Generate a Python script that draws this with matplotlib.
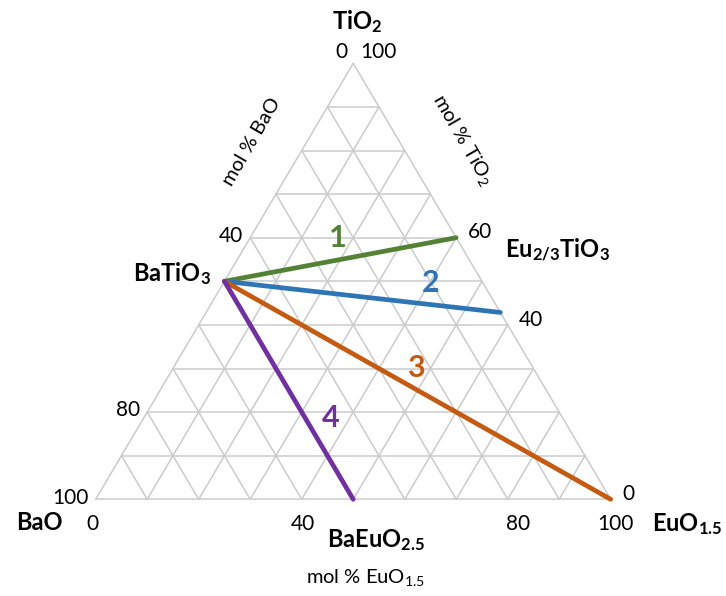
import numpy as np
import matplotlib
matplotlib.use("Agg")
import matplotlib.pyplot as plt

plt.rcParams['font.family'] = ['Lato', 'DejaVu Sans']
plt.rcParams['mathtext.fontset'] = 'custom'
plt.rcParams['mathtext.rm'] = 'Lato'
plt.rcParams['mathtext.it'] = 'Lato:italic'
plt.rcParams['mathtext.bf'] = 'Lato:bold'

# Compositions are (BaO, TiO2, EuO1.5) in mol %
batio3 = (50, 50, 0)
tie_line_ends = [(0, 60, 40),              # 1: Eu2/3TiO3
                 (0, 300 / 7, 400 / 7),    # 2: Eu4Ti3O12
                 (0, 0, 100),              # 3: EuO1.5
                 (50, 0, 50)]              # 4: BaEuO2.5
tie_line_names = ['1', '2', '3', '4']
tie_line_colors = ['#548235', '#2E75B6', '#C55A11', '#7030A0']

grid_step = 10
left_ticks = [40, 80, 100]       # mol % BaO on the left edge
right_ticks = [60, 40, 0]        # mol % TiO2 on the right edge
bottom_ticks = [0, 40, 80, 100]  # mol % EuO1.5 on the bottom edge

W, H = 726, 596
# triangle corners in pixels
x0, x1, ybase, ytop = 95.7, 610.7, 499.3, 63.3
sx = x1 - x0
sy = ybase - ytop


def tern(bao, tio2, euo):
    tot = bao + tio2 + euo
    t = tio2 / tot
    e = euo / tot
    return e + t / 2, t


def px(x, y):
    return (x - x0) / sx, (ybase - y) / sy


fig = plt.figure(figsize=(W / 100, H / 100), dpi=100)
ax = fig.add_axes([0, 0, 1, 1])
ax.set_xlim(-x0 / sx, (W - x0) / sx)
ax.set_ylim(-(H - ybase) / sy, ybase / sy)
ax.axis('off')

grid_kw = dict(color='#cbcbcb', lw=1.1, zorder=1, solid_capstyle='round')
for v in range(0, 101, grid_step):
    # constant TiO2
    a = tern(100 - v, v, 0); b = tern(0, v, 100 - v)
    ax.plot([a[0], b[0]], [a[1], b[1]], **grid_kw)
    # constant EuO1.5
    a = tern(100 - v, 0, v); b = tern(0, 100 - v, v)
    ax.plot([a[0], b[0]], [a[1], b[1]], **grid_kw)
    # constant BaO
    a = tern(v, 0, 100 - v); b = tern(v, 100 - v, 0)
    ax.plot([a[0], b[0]], [a[1], b[1]], **grid_kw)

# tie lines from BaTiO3
for end, col in zip(tie_line_ends, tie_line_colors):
    a = tern(*batio3); b = tern(*end)
    ax.plot([a[0], b[0]], [a[1], b[1]], color=col, lw=3.4, zorder=3,
            solid_capstyle='round')

label_px = [(338, 238), (431, 283), (416, 368), (331, 418)]
for name, col, (lx, ly) in zip(tie_line_names, tie_line_colors, label_px):
    ax.text(*px(lx, ly), name, color=col, fontsize=22, fontweight='bold',
            ha='center', va='center', zorder=4)

num_kw = dict(fontsize=15, color='black', va='center')
# left edge ticks (BaO)
for v in left_ticks:
    p = tern(v, 100 - v, 0)
    ax.text(p[0] - 0.014, p[1] + 0.004, str(v), ha='right', **num_kw)
# right edge ticks (TiO2)
for v in right_ticks:
    p = tern(0, v, 100 - v)
    ax.text(p[0] + 0.022, p[1] + 0.012, str(v), ha='left', **num_kw)
# bottom edge ticks (EuO1.5)
bottom_dx = {0: -0.006, 40: 0.002, 80: 0.02, 100: 0.01}
for v in bottom_ticks:
    p = tern(100 - v, 0, v)
    ax.text(p[0] + bottom_dx[v], p[1] - 0.057, str(v), ha='center', **num_kw)

# apex ticks
ax.text(*px(341, 52), '0', ha='center', **num_kw)
ax.text(*px(378, 52), '100', ha='center', **num_kw)

# axis titles
title_kw = dict(fontsize=14.5, ha='center', va='center')
ax.text(*px(252, 142), 'mol % BaO', rotation=60, **title_kw)
ax.text(*px(462, 140), r'mol % TiO$_{2}$', rotation=-60, **title_kw)
ax.text(*px(366, 578), r'mol % EuO$_{1.5}$', **title_kw)

# phase names
bold_kw = dict(fontsize=17, fontweight='bold', va='center')
ax.text(*px(357, 22), r'TiO$_\mathbf{2}$', ha='center', **bold_kw)
ax.text(*px(211, 274), r'BaTiO$_\mathbf{3}$', ha='right', **bold_kw)
ax.text(*px(505, 250), r'Eu$_\mathbf{2/3}$TiO$_\mathbf{3}$', ha='left', **bold_kw)
ax.text(*px(39, 523), 'BaO', ha='center', **bold_kw)
ax.text(*px(652, 524), r'EuO$_\mathbf{1.5}$', ha='left', **bold_kw)
ax.text(*px(327, 540), r'BaEuO$_\mathbf{2.5}$', ha='left', **bold_kw)

fig.savefig('out.png', dpi=100)
